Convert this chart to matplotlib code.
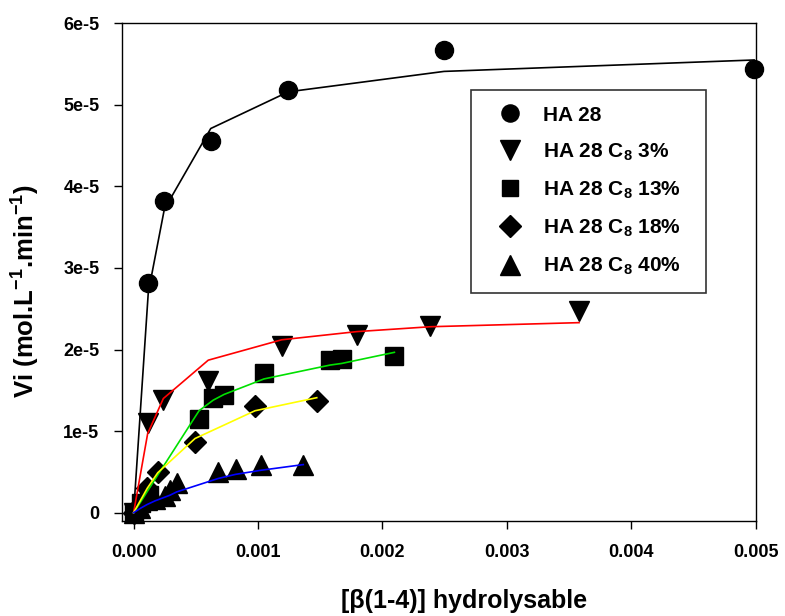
import matplotlib
matplotlib.use("Agg")
import matplotlib.pyplot as plt
import numpy as np

plt.rcParams['font.family'] = ['Liberation Sans', 'DejaVu Sans']
plt.rcParams['font.weight'] = 'bold'
plt.rcParams['mathtext.fontset'] = 'custom'
plt.rcParams['mathtext.rm'] = 'Liberation Sans:bold'
plt.rcParams['mathtext.bf'] = 'Liberation Sans:bold'
plt.rcParams['mathtext.it'] = 'Liberation Sans:bold'
plt.rcParams['mathtext.default'] = 'bf'

# ---------------- data (y in units of 1e-5 mol/L/min) ----------------
ha28_x = [0, 0.000118, 0.000247, 0.00062, 0.001244, 0.002495, 0.004987]
ha28_y = [0, 2.81, 3.825, 4.556, 5.176, 5.67, 5.44]
ha28_fit = [0, 2.70, 3.72, 4.71, 5.16, 5.41, 5.55]

c3_x = [0, 0.000113, 0.000239, 0.0006, 0.00119, 0.001793, 0.002385, 0.00358]
c3_y = [0, 1.102, 1.382, 1.618, 2.049, 2.178, 2.289, 2.473]
c3_fit = [0, 0.97, 1.40, 1.87, 2.12, 2.22, 2.28, 2.33]

c13_x = [0, 0.00006, 0.00012, 0.000526, 0.00064, 0.000727, 0.001048, 0.001579, 0.001673, 0.002096]
c13_y = [0, 0.12, 0.22, 1.145, 1.404, 1.438, 1.718, 1.877, 1.889, 1.921]
c13_fit = [0, 0.14, 0.285, 1.25, 1.38, 1.45, 1.64, 1.81, 1.83, 1.966]

c18_x = [0, 0.00004, 0.00011, 0.000194, 0.000494, 0.000976, 0.001472]
c18_y = [0, 0.08, 0.30, 0.50, 0.867, 1.308, 1.373]
c18_fit = [0, 0.11, 0.30, 0.49, 0.91, 1.25, 1.41]

c40_x = [0, 0.00005, 0.000108, 0.000172, 0.00025, 0.000293, 0.000346, 0.000681, 0.000819, 0.001022, 0.001364]
c40_y = [0, 0.06, 0.15, 0.17, 0.20, 0.28, 0.36, 0.499, 0.53, 0.585, 0.579]
c40_fit = [0, 0.05, 0.10, 0.145, 0.19, 0.215, 0.255, 0.42, 0.47, 0.52, 0.59]

labels = ['HA 28', 'HA 28 C$_8$ 3%', 'HA 28 C$_8$ 13%', 'HA 28 C$_8$ 18%', 'HA 28 C$_8$ 40%']
xticks = [0, 0.001, 0.002, 0.003, 0.004, 0.005]
xticklabels = ['0.000', '0.001', '0.002', '0.003', '0.004', '0.005']
yticks = [0, 1, 2, 3, 4, 5, 6]
yticklabels = ['0', '1e-5', '2e-5', '3e-5', '4e-5', '5e-5', '6e-5']

series = [
    (ha28_x, ha28_y, ha28_fit, 'o', 13, 'black'),
    (c3_x, c3_y, c3_fit, 'v', 15, 'red'),
    (c13_x, c13_y, c13_fit, 's', 12.5, '#00e000'),
    (c18_x, c18_y, c18_fit, 'D', 11.5, '#ffff00'),
    (c40_x, c40_y, c40_fit, '^', 15, 'blue'),
]

fig = plt.figure(figsize=(7.85, 6.16), dpi=100)
ax = fig.add_axes([0.1558, 0.1547, 0.8069, 0.8075])

for (x, y, fit, m, ms, col), lab in zip(series, labels):
    ax.plot(x, y, linestyle='none', marker=m, markersize=ms, color='black',
            markeredgecolor='black', label=lab, clip_on=False, zorder=3)
    ax.plot(x, fit, color=col, linewidth=1.2, zorder=4, clip_on=False)

ax.set_xlim(-0.0000908, 0.005)
ax.set_ylim(-0.098, 6)
ax.set_xticks(xticks)
ax.set_xticklabels(xticklabels)
ax.set_yticks(yticks)
ax.set_yticklabels(yticklabels)
ax.tick_params(direction='out', length=5.5, width=1.0, labelsize=13, pad=11)
for lab in ax.get_xticklabels() + ax.get_yticklabels():
    lab.set_fontweight('bold')
for s in ax.spines.values():
    s.set_linewidth(1.0)

ax.set_xlabel(r'[β(1-4)] hydrolysable', fontsize=18, fontweight='bold')
ax.set_ylabel(r'Vi (mol.L$^{-1}$.min$^{-1}$)', fontsize=18.5, fontweight='bold')
ax.xaxis.set_label_coords(0.539, -0.137)
ax.yaxis.set_label_coords(-0.127, 0.462)

leg = ax.legend(loc='upper left', bbox_to_anchor=(0.5505, 0.866, 0.3711, 0.0),
                mode='expand', frameon=True, fancybox=False,
                labelspacing=0.81, borderpad=0.75, handletextpad=0.5,
                borderaxespad=0, markerscale=0.95, handlelength=2.2,
                prop={'weight': 'bold', 'size': 15})
leg.get_frame().set_edgecolor('black')
leg.get_frame().set_linewidth(1.2)

fig.savefig('out.png', dpi=100)
